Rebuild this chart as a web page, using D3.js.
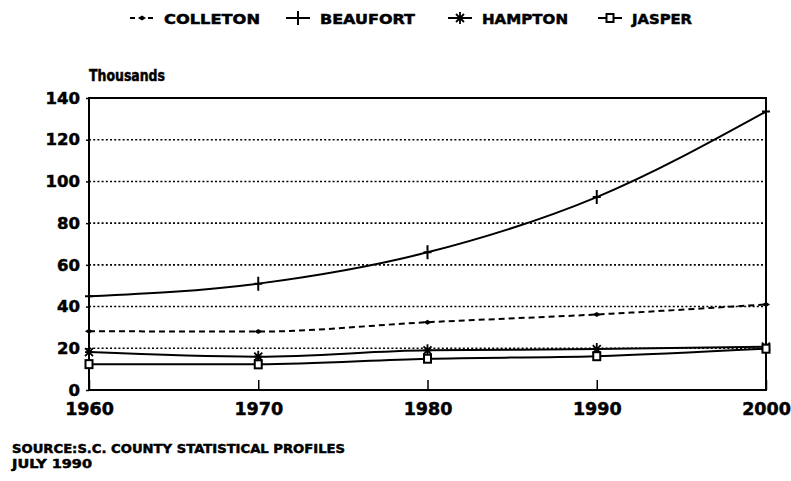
<!DOCTYPE html>
<html>
<head>
<meta charset="utf-8">
<script src="https://cdn.jsdelivr.net/npm/d3@7"></script>
<style>
  body { margin: 0; background: #fff; }
  svg { display: block; }
  text { font-family: "DejaVu Sans", sans-serif; font-weight: bold; fill: #000; stroke: #000; stroke-width: 0.5px; }
</style>
</head>
<body>
<svg width="791" height="481"></svg>
<script>
var years = [1960, 1970, 1980, 1990, 2000];
var colleton = [28.2, 28.0, 32.5, 36.2, 41.0];
var beaufort = [44.9, 51.0, 66.0, 92.5, 133.5];
var hampton = [18.2, 16.0, 19.0, 19.6, 20.8];
var jasper = [12.4, 12.3, 15.0, 16.2, 19.8];
var seriesNames = ["COLLETON", "BEAUFORT", "HAMPTON", "JASPER"];
var yTicks = [0, 20, 40, 60, 80, 100, 120, 140];

var svg = d3.select("svg"),
    margin = {top: 98, right: 25, bottom: 91, left: 89},
    width = 791 - margin.left - margin.right,
    height = 481 - margin.top - margin.bottom;

var x = d3.scaleLinear().domain([1960, 2000]).range([0, width]),
    y = d3.scaleLinear().domain([0, 140]).range([height, 0]);

var g = svg.append("g")
    .attr("transform", "translate(" + margin.left + "," + margin.top + ")");

// dotted grid
g.selectAll(".grid")
    .data(yTicks.filter(function(d) { return d > 0 && d < 140; }))
    .enter().append("line")
    .attr("x1", 0).attr("x2", width)
    .attr("y1", function(d) { return y(d); })
    .attr("y2", function(d) { return y(d); })
    .attr("stroke", "#000")
    .attr("stroke-width", 1.6)
    .attr("stroke-dasharray", "2,2.2");

// frame
g.append("rect")
    .attr("width", width).attr("height", height)
    .attr("fill", "none").attr("stroke", "#000").attr("stroke-width", 2);

// y axis
var yAxis = g.append("g")
    .call(d3.axisLeft(y).tickValues(yTicks).tickSize(3).tickPadding(6));
yAxis.select(".domain").remove();
yAxis.selectAll("line").attr("stroke-width", 1.5);
yAxis.selectAll("text")
    .style("font-family", "DejaVu Sans").style("font-weight", "bold")
    .style("font-size", "16.5px").attr("fill", "#000");

// x axis, ticks point up into the plot
var xAxis = g.append("g")
    .attr("transform", "translate(0," + height + ")")
    .call(d3.axisBottom(x).tickValues(years).tickFormat(d3.format("d")).tickSizeInner(-10).tickSizeOuter(0).tickPadding(13));
xAxis.select(".domain").remove();
xAxis.selectAll("line").attr("stroke-width", 1.5);
xAxis.selectAll("text")
    .style("font-family", "DejaVu Sans").style("font-weight", "bold")
    .style("font-size", "17.5px").attr("fill", "#000");

svg.append("text")
    .attr("x", 89).attr("y", 81)
    .style("font-size", "15px")
    .attr("textLength", 76).attr("lengthAdjust", "spacingAndGlyphs")
    .text("Thousands");

var line = d3.line()
    .x(function(d, i) { return x(years[i]); })
    .y(function(d) { return y(d); })
    .curve(d3.curveMonotoneX);

var allSeries = [colleton, beaufort, hampton, jasper];
var dashes = ["6,4", null, null, null];

allSeries.forEach(function(s, k) {
    g.append("path")
        .attr("d", line(s))
        .attr("fill", "none")
        .attr("stroke", "#000")
        .attr("stroke-width", 2)
        .attr("stroke-dasharray", dashes[k]);
    s.forEach(function(v, i) {
        drawMarker(g, k, x(years[i]), y(v));
    });
});

function drawMarker(sel, k, cx, cy) {
    var m = sel.append("g").attr("transform", "translate(" + cx + "," + cy + ")");
    if (k === 0) {
        m.append("path").attr("d", "M-4,0L0,-2.5L4,0L0,2.5Z").attr("fill", "#000");
    } else if (k === 1) {
        m.append("path").attr("d", "M0,-7V7M-4,0H4")
            .attr("stroke", "#000").attr("stroke-width", 2);
    } else if (k === 2) {
        m.append("path").attr("d", "M0,-6V6M-4,-4L4,4M-4,4L4,-4M-4,0H4")
            .attr("stroke", "#000").attr("stroke-width", 1.8);
    } else {
        m.append("rect").attr("x", -3.5).attr("y", -4).attr("width", 7).attr("height", 8)
            .attr("fill", "#fff").attr("stroke", "#000").attr("stroke-width", 2);
    }
}

// legend
var legendX = [130, 286, 448, 598];
var legendW = [96, 95, 86, 60];
var legend = svg.append("g").attr("transform", "translate(0,18)");
seriesNames.forEach(function(name, k) {
    var row = legend.append("g").attr("transform", "translate(" + legendX[k] + ",0)");
    row.append("line")
        .attr("x1", 0).attr("x2", 24).attr("y1", 0).attr("y2", 0)
        .attr("stroke", "#000").attr("stroke-width", 2)
        .attr("stroke-dasharray", k === 0 ? "5,4" : null);
    drawMarker(row, k, 12, 0);
    row.append("text")
        .attr("x", 34).attr("y", 6)
        .style("font-size", "14px")
        .attr("textLength", legendW[k]).attr("lengthAdjust", "spacingAndGlyphs")
        .text(name);
});

svg.append("text")
    .attr("x", 12).attr("y", 453)
    .style("font-size", "13px")
    .attr("textLength", 333).attr("lengthAdjust", "spacingAndGlyphs")
    .text("SOURCE:S.C. COUNTY STATISTICAL PROFILES");
svg.append("text")
    .attr("x", 12).attr("y", 468)
    .style("font-size", "13px")
    .attr("textLength", 80).attr("lengthAdjust", "spacingAndGlyphs")
    .text("JULY 1990");
</script>
</body>
</html>
